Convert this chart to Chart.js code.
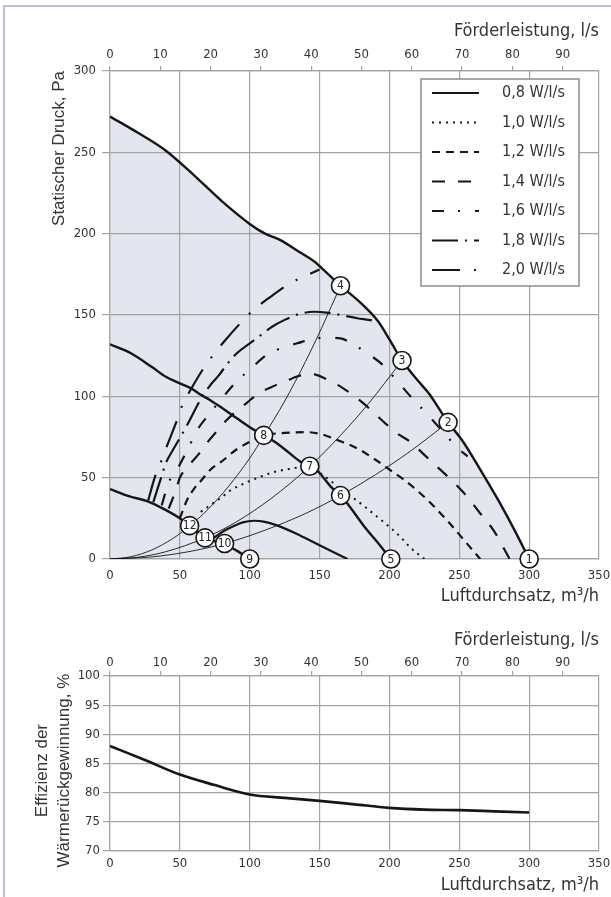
<!DOCTYPE html>
<html>
<head>
<meta charset="utf-8">
<script src="https://cdn.jsdelivr.net/npm/chart.js@4.4.1/dist/chart.umd.min.js"></script>
<style>
html, body { margin: 0; padding: 0; background: #fff; }
body { width: 611px; height: 897px; position: relative; overflow: hidden; }
#frame { position: absolute; left: 3px; top: 5px; width: 700px; height: 1000px; border-left: 2px solid #b9c1d9; border-top: 2px solid #b9c1d9; }
#topWrap { position: absolute; left: 0; top: 0; width: 611px; height: 610px; }
#bottomWrap { position: absolute; left: 0; top: 610px; width: 611px; height: 287px; }
</style>
</head>
<body>
<div id="frame"></div>
<div id="topWrap"><canvas id="pressureChart"></canvas></div>
<div id="bottomWrap"><canvas id="efficiencyChart"></canvas></div>
<script>
// --- values (x = m3/h, y = Pa or %) ---
const envelopeX = [0, 20, 40, 60, 80, 100, 111, 122, 135, 146, 155, 165, 180, 192, 200, 209, 220, 228, 242, 252, 265, 278, 290, 300];
const envelopeY = [272, 262, 251, 236, 220, 206, 200, 196, 189, 183, 176, 168, 157, 146, 135, 122, 110, 102, 84, 73, 55, 36, 17, 0];

const midFanX = [0, 15, 30, 40, 50, 58, 65, 72, 80, 90, 100, 110, 117, 125, 136, 143, 149, 158, 165, 170, 182, 194, 201];
const midFanY = [132, 126.5, 118, 112, 108, 105, 101, 97.5, 93, 87, 81, 76, 72.5, 67.5, 60, 57, 53.7, 44.5, 39, 34, 20, 7.6, 0];

const lowFanX = [0, 14, 27, 38, 50, 57, 63, 68, 75, 82, 91, 100];
const lowFanY = [43, 38.5, 35.5, 31, 25, 20, 16, 12.7, 11, 9.2, 5, 0];

const sysAX = [0, 15, 30, 45, 57, 70, 85, 100, 110, 125, 140, 152, 165];
const sysAY = [0, 1.4, 5.6, 12.6, 20.3, 30.4, 44.8, 62, 75.5, 97, 121.5, 143, 168];
const sysBX = [0, 20, 40, 68, 90, 115, 143, 165, 185, 209];
const sysBY = [0, 1.1, 4.5, 13, 22.6, 37, 57, 76, 95.5, 122];
const sysCX = [0, 30, 55, 82, 110, 140, 165, 190, 215, 242];
const sysCY = [0, 1.3, 4.3, 9.5, 17.4, 28, 39, 51.8, 66.3, 84];

const sfp08X = [70, 76, 82, 88, 95, 103, 110, 120, 136, 150, 170];
const sfp08Y = [11, 14, 17.5, 20, 22.5, 23.5, 23, 20.5, 14.5, 8.5, 0];
const sfp10X = [65, 70, 75, 80, 85, 90, 95, 100, 106, 112, 120, 128, 135, 142, 150, 158, 166, 175, 184, 194, 201, 208, 215, 225];
const sfp10Y = [29, 32, 35, 38, 41.5, 44, 46, 48, 50, 52, 54, 55.3, 56.3, 57, 53, 48, 42, 37, 31, 24, 19, 13.5, 7, 0];
const sfp12X = [50, 55, 60, 65, 72, 80, 90, 100, 110, 125, 140, 150, 163, 177, 190, 200, 210, 220, 230, 242, 255, 265];
const sfp12Y = [25, 36, 43, 48, 55, 60, 67, 72, 76, 77.5, 78, 77, 73, 68, 61, 55, 49, 42, 34, 23, 10, 0];
const sfp14X = [42, 47, 50, 57, 63, 70, 76, 83, 90, 98, 105, 115, 125, 135, 145, 155, 165, 175, 185, 195, 205, 215, 225, 235, 245, 255, 265, 275, 286];
const sfp14Y = [31, 42, 50, 58, 64, 72, 78, 85, 90.5, 96, 101, 105.5, 109, 112.5, 113.5, 110.5, 106, 100, 93, 85, 77.5, 72, 64, 56, 48, 39, 28, 17, 0];
const sfp16X = [37, 42, 48, 55, 63, 70, 80, 90, 100, 112, 122, 134, 145, 155, 165, 175, 185, 195, 205, 215, 226, 237, 248, 256];
const sfp16Y = [33, 47, 55, 66.5, 80, 88, 98.6, 108.7, 116.3, 125.4, 129.5, 132.6, 135.3, 136, 135.6, 131.5, 126, 119.5, 110, 100, 90, 79.5, 69, 63];
const sfp18X = [31, 36.6, 40, 45, 50, 56, 65, 71, 78, 84, 91, 100, 108, 116, 125, 135, 146, 155, 165, 177, 185, 192];
const sfp18Y = [35, 50, 59, 67, 74.4, 83.6, 98.3, 106, 113, 120, 126.6, 132.5, 137.7, 142.8, 147, 150.5, 152, 151.5, 150, 148, 147, 146];
const sfp20X = [27, 32, 36.6, 41, 48, 52, 58, 68, 75, 82, 95.5, 103.5, 113, 129, 140, 150];
const sfp20Y = [35, 50, 60, 70, 85.4, 95, 104.5, 118.6, 126.6, 134, 147, 153.7, 160, 169.6, 174, 178];

const sfpLabels = ["0,8 W/l/s", "1,0 W/l/s", "1,2 W/l/s", "1,4 W/l/s", "1,6 W/l/s", "1,8 W/l/s", "2,0 W/l/s"];

const circleX = [300, 242, 209, 165, 201, 165, 143, 110, 100, 82, 68, 57];
const circleY = [0, 84, 122, 168, 0, 39, 57, 76, 0, 9.5, 13, 20.5];
const circleLabels = ["1", "2", "3", "4", "5", "6", "7", "8", "9", "10", "11", "12"];

const effX = [0, 25, 50, 75, 100, 125, 150, 175, 200, 225, 250, 275, 300];
const effY = [88, 85.6, 83.1, 81.3, 79.7, 79.1, 78.6, 78, 77.4, 77.1, 77, 76.8, 76.6];

const M3H_PER_LS = 3.6;

// --- styling ---
const narrow = "'Liberation Sans Narrow','DejaVu Sans Condensed','Roboto Condensed','Arial Narrow',sans-serif";
const plain = "'Liberation Sans',Arial,sans-serif";
const textColor = "#333";
const gridColor = "#a3a3a3";
const ink = "#161616";

function pts(xs, ys) {
    return xs.map((x, i) => ({ x: x, y: ys[i] }));
}

function curve(label, xs, ys, width, dash) {
    return {
        label: label,
        data: pts(xs, ys),
        showLine: true,
        borderColor: ink,
        borderWidth: width,
        borderDash: dash || [],
        borderCapStyle: "butt",
        pointRadius: 0,
        cubicInterpolationMode: "monotone",
        fill: false,
    };
}

// numbers inside the operating point circles
const circleLabelPlugin = {
    id: "circleLabels",
    afterDatasetsDraw(chart) {
        const meta = chart.getDatasetMeta(0);
        const ctx = chart.ctx;
        ctx.save();
        ctx.font = "12px " + narrow;
        ctx.fillStyle = "#222";
        ctx.textAlign = "center";
        ctx.textBaseline = "middle";
        meta.data.forEach((pt, i) => ctx.fillText(circleLabels[i], pt.x, pt.y + 0.5));
        ctx.restore();
    },
};

// legend box in the upper right of the plot
const legendBoxPlugin = {
    id: "legendBox",
    afterDatasetsDraw(chart) {
        const { ctx, chartArea } = chart;
        const right = chartArea.right - 20;
        const left = right - 158;
        const top = chartArea.top + 8;
        const rowH = 29.5;
        ctx.save();
        ctx.fillStyle = "#fff";
        ctx.fillRect(left, top, right - left, 207);
        ctx.strokeStyle = "#8c8c8c";
        ctx.lineWidth = 1.5;
        ctx.strokeRect(left, top, right - left, 207);
        sfpLabels.forEach((lab, i) => {
            const ds = chart.data.datasets.find(d => d.label === lab);
            const y = top + 14 + i * rowH;
            ctx.setLineDash(ds.borderDash);
            ctx.lineWidth = 2.2;
            ctx.strokeStyle = ink;
            ctx.beginPath();
            ctx.moveTo(left + 11, y);
            ctx.lineTo(left + 58, y);
            ctx.stroke();
            ctx.setLineDash([]);
            ctx.fillStyle = textColor;
            ctx.font = "16px " + narrow;
            ctx.textAlign = "left";
            ctx.textBaseline = "middle";
            ctx.fillText(lab, left + 81, y);
        });
        ctx.restore();
    },
};

// fixed axis box sizes so both plots line up with the reference
function noOverflow(s) {
    s.paddingLeft = 0;
    s.paddingRight = 0;
}

function xAxes(bottomH, topH, bottomTitlePad, topTitlePad, bottomTickPad, topTickPad) {
    return {
        x: {
            type: "linear",
            position: "bottom",
            min: 0,
            max: 350,
            ticks: { stepSize: 50, color: textColor, font: { family: narrow, size: 13 }, padding: bottomTickPad },
            grid: { color: gridColor, lineWidth: 1.2, drawTicks: false },
            border: { color: gridColor, width: 1.2 },
            title: {
                display: true,
                text: "Luftdurchsatz, m³/h",
                align: "end",
                color: textColor,
                font: { family: narrow, size: 18 },
                padding: { top: 0, bottom: bottomTitlePad },
            },
            afterFit: s => { s.height = bottomH; noOverflow(s); },
        },
        x2: {
            type: "linear",
            position: "top",
            min: 0,
            max: 350 / M3H_PER_LS,
            ticks: { stepSize: 10, includeBounds: false, color: textColor, font: { family: narrow, size: 13 }, padding: topTickPad },
            grid: { color: gridColor, lineWidth: 1.2, drawOnChartArea: false, tickLength: 5 },
            border: { color: gridColor, width: 1.2 },
            title: {
                display: true,
                text: "Förderleistung, l/s",
                align: "end",
                color: textColor,
                font: { family: narrow, size: 18 },
                padding: { top: topTitlePad, bottom: 0 },
            },
            afterFit: s => { s.height = topH; noOverflow(s); },
        },
    };
}

// --- upper chart: pressure / flow ---
const pressureDatasets = [
    Object.assign(curve("Punkte", circleX, circleY, 1.6), {
        showLine: false,
        pointRadius: 9,
        pointStyle: "circle",
        pointBackgroundColor: "#fff",
        pointBorderColor: ink,
        pointBorderWidth: 1.6,
        clip: false,
    }),
    curve("sysA", sysAX, sysAY, 0.9),
    curve("sysB", sysBX, sysBY, 0.9),
    curve("sysC", sysCX, sysCY, 0.9),
    curve(sfpLabels[0], sfp08X, sfp08Y, 2.2),
    curve(sfpLabels[1], sfp10X, sfp10Y, 2.0, [2, 5]),
    curve(sfpLabels[2], sfp12X, sfp12Y, 2.2, [8, 6]),
    curve(sfpLabels[3], sfp14X, sfp14Y, 2.2, [13, 13]),
    curve(sfpLabels[4], sfp16X, sfp16Y, 2.2, [12, 14, 2, 15]),
    curve(sfpLabels[5], sfp18X, sfp18Y, 2.2, [26, 7, 2, 7]),
    curve(sfpLabels[6], sfp20X, sfp20Y, 2.2, [28, 14, 2, 14]),
    curve("lowFan", lowFanX, lowFanY, 2.4),
    curve("midFan", midFanX, midFanY, 2.4),
    Object.assign(curve("envelope", envelopeX, envelopeY, 2.4), {
        fill: "origin",
        backgroundColor: "#e3e6ee",
    }),
];

const pressureScales = xAxes(51, 71, 3, 21, 9, 4);
pressureScales.y = {
    type: "linear",
    position: "left",
    min: 0,
    max: 300,
    ticks: { stepSize: 50, color: textColor, font: { family: narrow, size: 13 }, padding: 6 },
    grid: { color: gridColor, lineWidth: 1.2, tickLength: 8 },
    border: { color: gridColor, width: 1.2 },
    title: {
        display: true,
        text: "Statischer Druck, Pa",
        align: "end",
        color: textColor,
        font: { family: plain, size: 17 },
        padding: { top: 49, bottom: 0 },
    },
    afterFit: s => { s.width = 110; },
};

new Chart(document.getElementById("pressureChart"), {
    type: "scatter",
    data: { datasets: pressureDatasets },
    options: {
        responsive: true,
        maintainAspectRatio: false,
        animation: false,
        layout: { padding: { left: 0, right: 12, top: 0, bottom: 0 } },
        scales: pressureScales,
        plugins: {
            legend: { display: false },
            tooltip: { enabled: false },
            filler: { drawTime: "beforeDraw" },
        },
    },
    plugins: [circleLabelPlugin, legendBoxPlugin],
});

// --- lower chart: heat recovery efficiency ---
// trailing no-break spaces nudge the centred rotated title a little lower, as in the original
const effScales = xAxes(46, 66, 1, 20, 5, 1);
effScales.y = {
    type: "linear",
    position: "left",
    min: 70,
    max: 100,
    ticks: { stepSize: 5, color: textColor, font: { family: narrow, size: 13 }, padding: 3 },
    grid: { color: gridColor, lineWidth: 1.2, tickLength: 7 },
    border: { color: gridColor, width: 1.2 },
    title: {
        display: true,
        text: ["Effizienz der\u00A0\u00A0\u00A0", "Wärmerückgewinnung, %\u00A0\u00A0\u00A0"],
        align: "center",
        color: textColor,
        font: { family: plain, size: 17, lineHeight: 1.25 },
        padding: { top: 32, bottom: 0 },
    },
    afterFit: s => { s.width = 110; },
};

new Chart(document.getElementById("efficiencyChart"), {
    type: "scatter",
    data: { datasets: [curve("Effizienz", effX, effY, 2.6)] },
    options: {
        responsive: true,
        maintainAspectRatio: false,
        animation: false,
        layout: { padding: { left: 0, right: 12, top: 0, bottom: 0 } },
        scales: effScales,
        plugins: { legend: { display: false }, tooltip: { enabled: false } },
    },
});
</script>
</body>
</html>
